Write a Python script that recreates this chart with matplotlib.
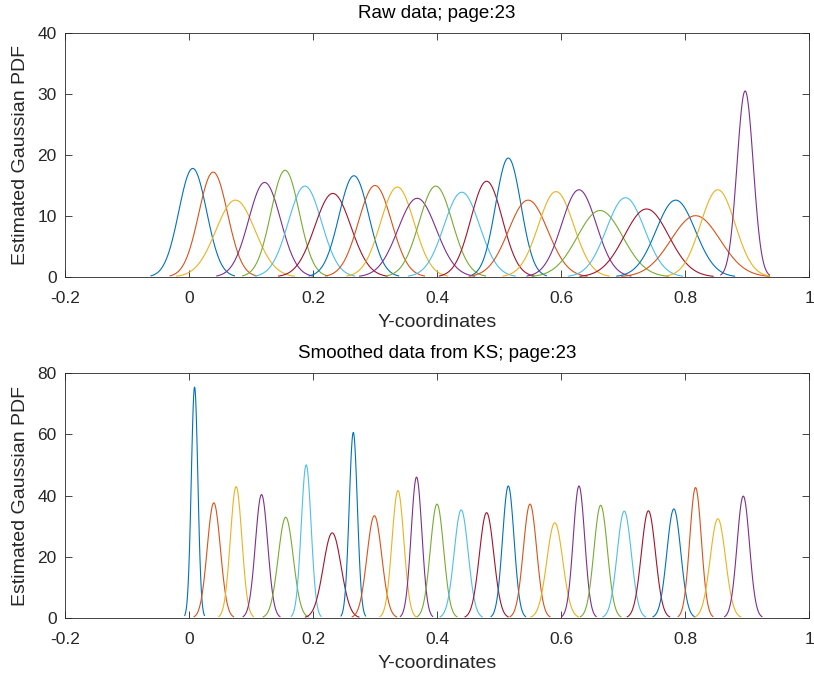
import numpy as np
import matplotlib
matplotlib.use("Agg")
import matplotlib.pyplot as plt

# MATLAB default color order
colors = ["#0072BD", "#D95319", "#EDB120", "#7E2F8E", "#77AC30", "#4DBEEE", "#A2142F"]

# raw data: peak positions and peak heights of each Gaussian
raw_means = [0.006, 0.039, 0.075, 0.122, 0.155, 0.187, 0.232, 0.266, 0.300, 0.336,
             0.368, 0.398, 0.440, 0.480, 0.515, 0.547, 0.592, 0.629, 0.663, 0.704,
             0.738, 0.785, 0.817, 0.853, 0.897]
raw_peaks = [17.8, 17.2, 12.6, 15.5, 17.5, 14.9, 13.7, 16.6, 15.0, 14.75,
             12.9, 14.9, 13.9, 15.7, 19.5, 12.6, 14.0, 14.3, 10.9, 13.0,
             11.15, 12.6, 10.05, 14.3, 30.5]

# smoothed (KS) data
ks_means = [0.009, 0.040, 0.076, 0.117, 0.156, 0.189, 0.231, 0.265, 0.299, 0.337,
            0.367, 0.400, 0.439, 0.480, 0.515, 0.550, 0.590, 0.629, 0.664, 0.702,
            0.741, 0.782, 0.817, 0.853, 0.894]
ks_peaks = [75.4, 37.6, 42.9, 40.3, 32.9, 50.0, 27.8, 60.6, 33.4, 41.6,
            46.0, 37.2, 35.3, 34.4, 43.1, 37.2, 31.1, 43.1, 36.8, 34.9,
            35.0, 35.6, 42.6, 32.4, 39.8]

plt.rcParams['font.family'] = ['Liberation Sans', 'DejaVu Sans']

fig = plt.figure(figsize=(8.14, 6.75), dpi=100)
W, H = 814, 675
ax1 = fig.add_axes([65 / W, 1 - 277 / H, 744 / W, 244 / H])
ax2 = fig.add_axes([65 / W, 1 - 618 / H, 744 / W, 245 / H])


def draw(ax, means, peaks, ymax, yticks, title):
    for i, (m, p) in enumerate(zip(means, peaks)):
        s = 1.0 / (p * np.sqrt(2 * np.pi))
        x = np.linspace(m - 3 * s, m + 3 * s, 120)
        y = p * np.exp(-0.5 * ((x - m) / s) ** 2)
        ax.plot(x, y, color=colors[i % 7], lw=0.8)
    ax.set_xlim(-0.2, 1)
    ax.set_ylim(0, ymax)
    ax.set_xticks([-0.2, 0, 0.2, 0.4, 0.6, 0.8, 1])
    ax.set_xticklabels(["-0.2", "0", "0.2", "0.4", "0.6", "0.8", "1"])
    ax.set_yticks(yticks)
    ax.tick_params(direction="in", top=True, right=True, length=5, width=0.6,
                   colors="#262626", labelsize=12.5)
    ax.tick_params(axis="x", pad=10)
    ax.tick_params(axis="y", pad=6)
    for sp in ax.spines.values():
        sp.set_color("#262626")
        sp.set_linewidth(0.6)
    ax.set_xlabel("Y-coordinates", fontsize=14, color="#262626", labelpad=6)
    ax.set_ylabel("Estimated Gaussian PDF", fontsize=14, color="#262626", labelpad=6)
    ax.set_title(title, fontsize=13.5, color="black", pad=11)


draw(ax1, raw_means, raw_peaks, 40, [0, 10, 20, 30, 40], "Raw data; page:23")
draw(ax2, ks_means, ks_peaks, 80, [0, 20, 40, 60, 80], "Smoothed data from KS; page:23")

fig.savefig("out.png", dpi=100)
